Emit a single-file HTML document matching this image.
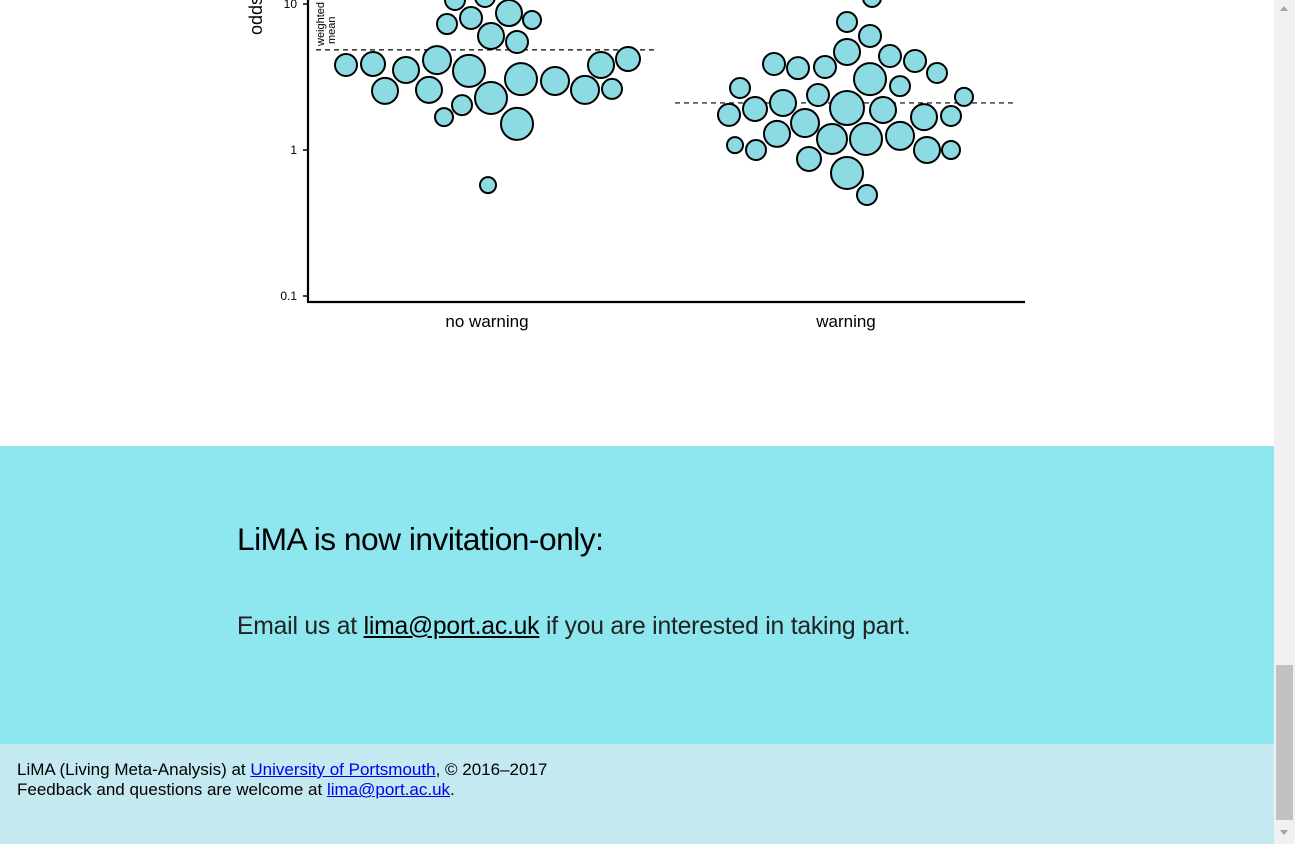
<!DOCTYPE html>
<html><head><meta charset="utf-8"><style>
html,body{margin:0;padding:0;width:1295px;height:844px;overflow:hidden;font-family:"Liberation Sans",sans-serif;background:#fff}
#main{position:absolute;left:0;top:0;width:1274px;height:844px}
#band{position:absolute;left:0;top:446px;width:1274px;height:298px;background:#8ee6ee}
#foot{position:absolute;left:0;top:744px;width:1274px;height:100px;background:#c5e9f0;font-size:17px;color:#000}
#sb{position:absolute;left:1274px;top:0;width:21px;height:844px;background:#f1f1f1}
a{color:#0000ee}
</style></head><body>
<div id="main">
<svg id="chart" width="1274" height="446" style="position:absolute;left:0;top:0"></svg>
<div id="band">
 <div style="position:absolute;left:237px;top:72px;font-size:31.7px;font-weight:300;letter-spacing:-0.5px;line-height:42px">LiMA is now invitation-only:</div>
 <div style="position:absolute;left:237px;top:165px;font-size:24.7px;font-weight:300;letter-spacing:-0.2px;line-height:32px;color:#222">Email us at <a href="#" style="color:#000">lima@port.ac.uk</a> if you are interested in taking part.</div>
</div>
<div id="foot">
 <div style="position:absolute;left:17px;top:16px;line-height:20px">LiMA (Living Meta-Analysis) at <a href="#">University of Portsmouth</a>, © 2016–2017<br>Feedback and questions are welcome at <a href="#">lima@port.ac.uk</a>.</div>
</div>
</div>
<div id="sb">
 <div style="position:absolute;left:6px;top:6px;width:0;height:0;border-left:4px solid transparent;border-right:4px solid transparent;border-bottom:5px solid #a3a3a3"></div>
 <div style="position:absolute;left:2px;top:665px;width:17px;height:155px;background:#c1c1c1"></div>
 <div style="position:absolute;left:6px;top:830px;width:0;height:0;border-left:4px solid transparent;border-right:4px solid transparent;border-top:5px solid #a3a3a3"></div>
</div>
<script>
const categories=["no warning","warning"];
const groupMeans=[4.85,2.1];
const yTicks=[10,1,0.1];
const yTickLabels=["10","1","0.1"];
const g1Values=[3.82,3.88,3.53,2.54,4.13,2.58,3.48,1.68,2.03,2.27,1.51,3.06,2.97,2.58,3.82,2.62,4.20,0.575,7.29,8.02,8.67,7.77,6.04,5.49,10.65,11.17];
const g1Weights=[11,12,13,13,14,13,16,9,10,16,16,16,14,14,13,10,12,8,10,11,13,9,13,11,10,10];
const g1Jitter=[-141,-114,-81,-102,-50,-58,-18,-43,-25,4,30,34,68,98,114,125,141,1,-40,-16,22,45,4,30,-32,-2];
const g2Values=[11.0,7.53,6.04,4.69,4.40,4.07,3.37,3.88,3.64,3.70,3.06,2.74,2.66,1.91,2.10,2.38,1.94,1.88,1.74,1.68,1.71,2.31,1.29,1.53,1.19,1.19,1.25,1.08,1.00,0.868,1.00,1.00,0.696,0.492];
const g2Weights=[9,10,11,13,11,11,10,11,11,11,16,10,10,12,13,11,17,13,11,13,10,9,13,14,15,16,14,8,10,12,13,9,16,10];
const g2Jitter=[26,1,24,1,44,69,91,-72,-48,-21,24,54,-106,-91,-63,-28,1,37,-117,78,105,118,-69,-41,-14,20,54,-111,-90,-37,81,105,1,21];
const S="http://www.w3.org/2000/svg";
const svg=document.getElementById('chart');
const X0=308,X1=1025,Y10=4,DEC=146;
const yScale=v=>Y10+DEC*(1-Math.log10(v));
const xCenter=i=>487+i*359;
function mk(t,a){const e=document.createElementNS(S,t);for(const k in a)e.setAttribute(k,a[k]);svg.appendChild(e);return e;}
let e=mk('line',{x1:X0,y1:0,x2:X0,y2:302,stroke:'#000','stroke-width':2.2});

e=mk('line',{x1:X0-1,y1:302,x2:X1,y2:302,stroke:'#000','stroke-width':2.2});

yTicks.forEach((t,i)=>{const y=yScale(t);
 e=mk('line',{x1:X0-5,y1:y,x2:X0,y2:y,stroke:'#000','stroke-width':1.5});
 
 e=mk('text',{x:X0-11,y:y+4,'text-anchor':'end','font-size':12,'font-family':'Liberation Sans, sans-serif'});
 e.textContent=yTickLabels[i];
 });
e=mk('text',{x:262,y:35,transform:'rotate(-90 262 35)','text-anchor':'start','font-size':18,'font-family':'Liberation Sans, sans-serif'});
e.textContent='odds ratio';
categories.forEach((c,i)=>{e=mk('text',{x:xCenter(i),y:327,'text-anchor':'middle','font-size':17,'font-family':'Liberation Sans, sans-serif'});
 e.textContent=c;});
groupMeans.forEach((m,i)=>{const y=yScale(m);
 e=mk('line',{x1:xCenter(i)-171,y1:y,x2:xCenter(i)+171,y2:y,stroke:'#000','stroke-width':1.2,'stroke-dasharray':'5,4'});
 });
e=mk('text',{x:324,y:46,transform:'rotate(-90 324 46)','font-size':11,'font-family':'Liberation Sans, sans-serif'});
e.textContent='weighted';
e=mk('text',{x:335,y:44,transform:'rotate(-90 335 44)','font-size':11,'font-family':'Liberation Sans, sans-serif'});
e.textContent='mean';
[[g1Values,g1Weights,g1Jitter],[g2Values,g2Weights,g2Jitter]].forEach((g,gi)=>{
 g[0].forEach((v,j)=>{
  const c=mk('circle',{cx:xCenter(gi)+g[2][j],cy:yScale(v),r:g[1][j],fill:'#8cdbe3',stroke:'#000','stroke-width':2});
  
  
 });});
</script>
</body></html>
